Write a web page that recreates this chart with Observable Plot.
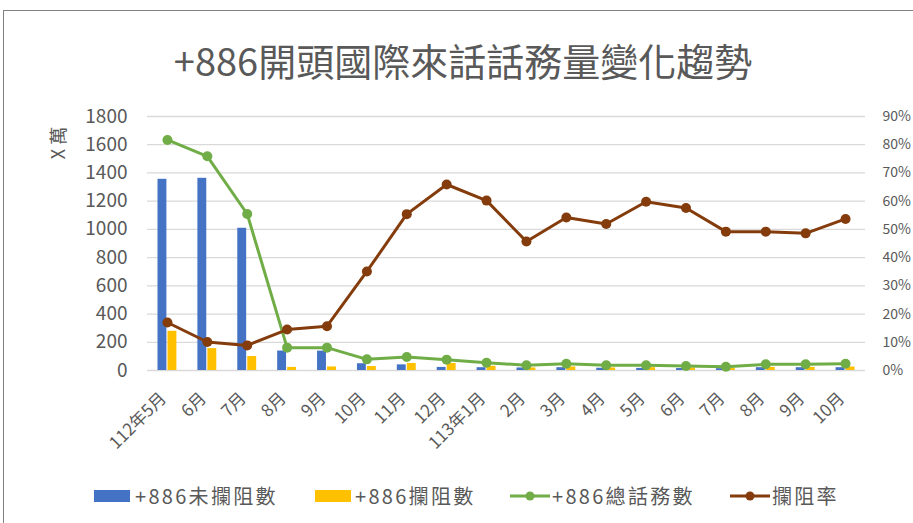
<!DOCTYPE html>
<html><head><meta charset="utf-8">
<script src="https://cdn.jsdelivr.net/npm/d3@7"></script>
<script src="https://cdn.jsdelivr.net/npm/@observablehq/plot@0.6"></script>
<style>
body{margin:0;background:#fff;font-family:"Noto Sans CJK TC","Noto Sans",sans-serif;}
#wrap{position:relative;width:913px;height:523px;overflow:hidden;background:#fff;}
#frame{position:absolute;left:3px;top:10px;width:930px;height:530px;border-top:1.5px solid #808080;border-left:1.5px solid #808080;}
#title{position:absolute;left:0;width:926px;top:37px;text-align:center;font-size:38px;color:#595959;line-height:1.2;}
#ylab{position:absolute;left:57px;top:143px;transform:translate(-50%,-50%) rotate(-90deg);font-size:18px;color:#595959;white-space:nowrap;}
#chart{position:absolute;left:0;top:100px;}
.leg{position:absolute;top:483px;font-size:20px;letter-spacing:2.3px;color:#595959;white-space:nowrap;line-height:26px;}
.sw{position:absolute;top:489px;}
</style></head><body>
<div id="wrap">
<div id="frame"></div>
<div id="title">+886開頭國際來話話務量變化趨勢</div>
<div id="ylab">X 萬</div>
<div id="chart"></div>
<div id="legend"></div>
</div>
<script>
const months = ["112年5月","6月","7月","8月","9月","10月","11月","12月","113年1月","2月","3月","4月","5月","6月","7月","8月","9月","10月"];
const unblocked = [1355, 1362, 1008, 138, 137, 48, 40, 22, 20, 18, 20, 16, 15, 14, 13, 20, 20, 20];
const blocked = [278, 155, 99, 22, 25, 28, 50, 50, 30, 18, 25, 18, 20, 18, 14, 22, 22, 25];
const total = [1634, 1518, 1109, 162, 162, 79, 96, 77, 55, 37, 48, 37, 37, 32, 27, 44, 44, 48];
const rate = [17.0, 10.1, 8.9, 14.5, 15.7, 35.1, 55.4, 65.9, 60.2, 45.7, 54.2, 51.9, 59.8, 57.6, 49.2, 49.2, 48.6, 53.7];
const leftTicks = [0, 200, 400, 600, 800, 1000, 1200, 1400, 1600, 1800];
const rightTicks = [0, 10, 20, 30, 40, 50, 60, 70, 80, 90];
const seriesNames = ["+886未攔阻數", "+886攔阻數", "+886總話務數", "攔阻率"];
const colors = ["#4472C4", "#FFC000", "#70AD47", "#843C0C"];

const k = 1800 / 90;
const data = months.map((m, i) => ({i, m, blue: unblocked[i], yellow: blocked[i], total: total[i], rate: rate[i]}));
const font = '"Noto Sans CJK TC","Noto Sans",sans-serif';

const chart = Plot.plot({
  width: 913, height: 370,
  marginTop: 16, marginBottom: 100, marginLeft: 147, marginRight: 48,
  style: {fontFamily: font, color: "#595959", background: "transparent", overflow: "visible"},
  x: {type: "band", domain: d3.range(months.length), padding: 0, round: false, label: null},
  y: {domain: [0, 1800], label: null},
  marks: [
    Plot.gridY(leftTicks, {stroke: "#d9d9d9", strokeOpacity: 1, strokeWidth: 1.3}),
    Plot.axisY(leftTicks, {anchor: "left", tickSize: 0, tickPadding: 20, fontSize: 19, label: null, tickFormat: d => String(d)}),
    Plot.axisY(rightTicks.map(r => r * k), {anchor: "right", tickSize: 0, tickPadding: 17, fontSize: 14, label: null, tickFormat: d => Math.round(d / k) + "%"}),
    Plot.axisX({anchor: "bottom", tickSize: 0, tickPadding: 25, dx: -4, tickRotate: -45, fontSize: 17, label: null, tickFormat: i => months[i]}),
    Plot.barY(data, {x: "i", y: "blue", fill: colors[0], insetLeft: 10.5, insetRight: 20.5}),
    Plot.barY(data, {x: "i", y: "yellow", fill: colors[1], insetLeft: 20.5, insetRight: 10.5}),
    Plot.lineY(data, {x: "i", y: "total", stroke: colors[2], strokeWidth: 3}),
    Plot.dot(data, {x: "i", y: "total", r: 5, fill: colors[2]}),
    Plot.lineY(data, {x: "i", y: d => d.rate * k, stroke: colors[3], strokeWidth: 3}),
    Plot.dot(data, {x: "i", y: d => d.rate * k, r: 5, fill: colors[3]})
  ]
});
document.getElementById("chart").appendChild(chart);

// legend
const legend = document.getElementById("legend");
const items = [
  {sw: 94, tx: 135, type: "rect"},
  {sw: 315, tx: 355, type: "rect"},
  {sw: 510, tx: 552, type: "line"},
  {sw: 730, tx: 772, type: "line"}
];
items.forEach((it, j) => {
  const s = document.createElementNS("http://www.w3.org/2000/svg", "svg");
  s.setAttribute("class", "sw");
  s.setAttribute("width", 42); s.setAttribute("height", 14);
  s.style.left = it.sw + "px";
  if (it.type === "rect") {
    s.innerHTML = `<rect x="0" y="1" width="36" height="12" fill="${colors[j]}"/>`;
  } else {
    s.innerHTML = `<line x1="0" x2="40" y1="7" y2="7" stroke="${colors[j]}" stroke-width="3"/><circle cx="20" cy="7" r="4.5" fill="${colors[j]}"/>`;
  }
  legend.appendChild(s);
  const t = document.createElement("div");
  t.className = "leg";
  t.style.left = it.tx + "px";
  t.textContent = seriesNames[j];
  legend.appendChild(t);
});
</script>
</body></html>
